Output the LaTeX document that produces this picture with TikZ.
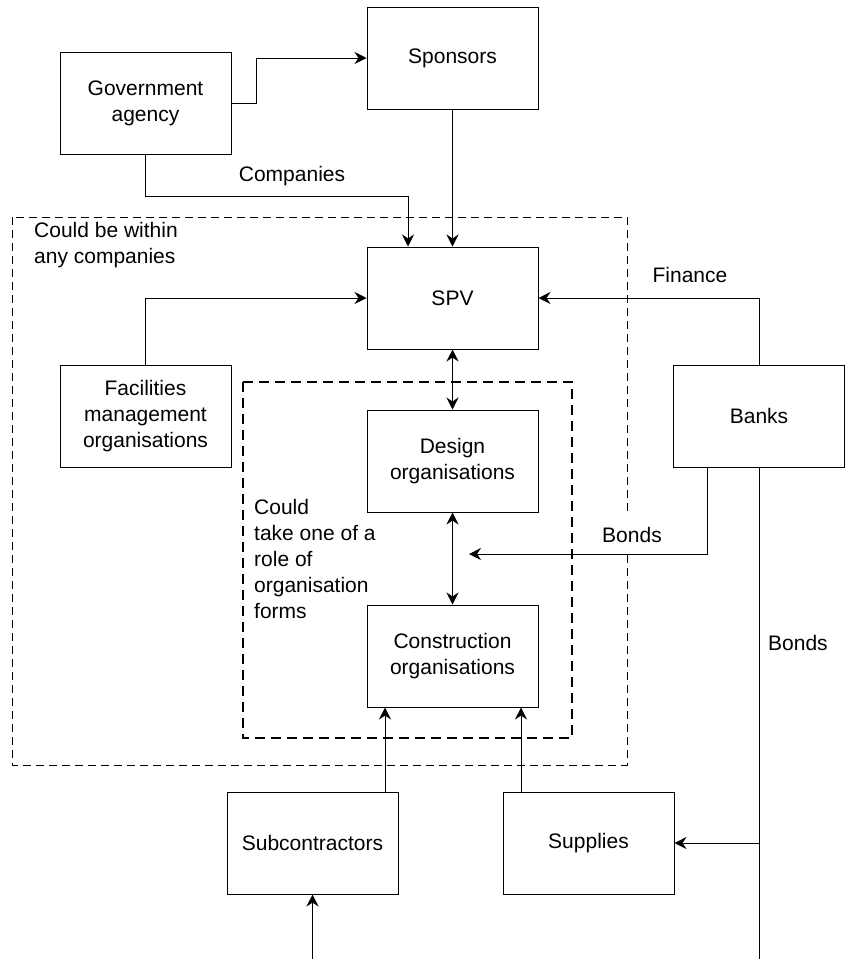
\documentclass[tikz,border=0pt]{standalone}
\usepackage{fontspec}
\setmainfont{Liberation Sans}
\usetikzlibrary{arrows.meta}
\begin{document}
\begin{tikzpicture}[x=1pt,y=-1pt,
  every node/.style={font=\fontsize{21}{26}\selectfont},
  box/.style={draw, line width=1pt, minimum width=171pt, minimum height=102pt, inner sep=0pt, align=center},
  lbl/.style={inner sep=0pt, align=left},
  conn/.style={line width=1pt},
  arr/.style={line width=1pt, -{Stealth[length=12pt,width=12pt,inset=4pt]}},
  darr/.style={line width=1pt, {Stealth[length=12pt,width=12pt,inset=4pt]}-{Stealth[length=12pt,width=12pt,inset=4pt]}},
  outerdash/.style={line width=1pt, dash pattern=on 8pt off 5pt},
  innerdash/.style={line width=2pt, dash pattern=on 10pt off 6pt}
]
\useasboundingbox (0,0) rectangle (845,959);

% dashed groups
\draw[outerdash] (12,217) rectangle (627,765);
\draw[innerdash] (243,382) rectangle (572,738);

% boxes
\node[box] (gov) at (145.5,103) {Government\\agency};
\node[box] (sponsors) at (452.5,58) {Sponsors};
\node[box] (spv) at (452.5,298) {SPV};
\node[box] (fac) at (145.5,416) {Facilities\\management\\organisations};
\node[box] (design) at (452.5,461) {Design\\organisations};
\node[box] (constr) at (452.5,656) {Construction\\organisations};
\node[box] (banks) at (759,416) {Banks};
\node[box] (subc) at (312.5,843) {Subcontractors};
\node[box] (supplies) at (588.5,843) {Supplies};

% labels
\node[lbl] (lcompanies) at (292,176) {Companies};
\node[lbl] (lfinance) at (690,275) {Finance};
\node[lbl, fill=white, minimum height=38pt, minimum width=60pt] (lbonds) at (632,535) {Bonds};
\node[lbl, anchor=west] (lbonds2) at (768,643) {Bonds};
\node[lbl, anchor=west] (lwithin) at (34,245) {Could be within\\any companies};
\node[lbl, anchor=west] (lrole) at (254,559) {Could\\take one of a\\role of\\organisation\\forms};

% helper coordinates
\coordinate (bondend) at (469,554);
\coordinate (bottomR) at (759,959);
\coordinate (subin) at (312.5,959);
\coordinate (sc1) at ([xshift=72.5pt]subc.north);
\coordinate (sp1) at ([xshift=-67.5pt]supplies.north);
\coordinate (bk1) at ([xshift=-52pt]banks.south);
\coordinate (sv1) at ([xshift=-44.5pt]spv.north);

% connectors
\draw[arr] (gov.east) -- ++(25,0) |- (sponsors.west);
\draw[arr] (gov.south) -- ++(0,42) -| (sv1);
\draw[arr] (sponsors.south) -- (spv.north);
\draw[arr] (fac.north) |- (spv.west);
\draw[arr] (banks.north) |- (spv.east);
\draw[darr] (spv.south) -- (design.north);
\draw[darr] (design.south) -- (constr.north);
\draw[arr] (bk1) |- (bondend);
\draw[conn] (banks.south) -- (bottomR);
\draw[arr] (banks.south |- supplies.east) -- (supplies.east);
\draw[arr] (sc1) -- (sc1 |- constr.south);
\draw[arr] (sp1) -- (sp1 |- constr.south);
\draw[arr] (subin) -- (subc.south);
\end{tikzpicture}
\end{document}
